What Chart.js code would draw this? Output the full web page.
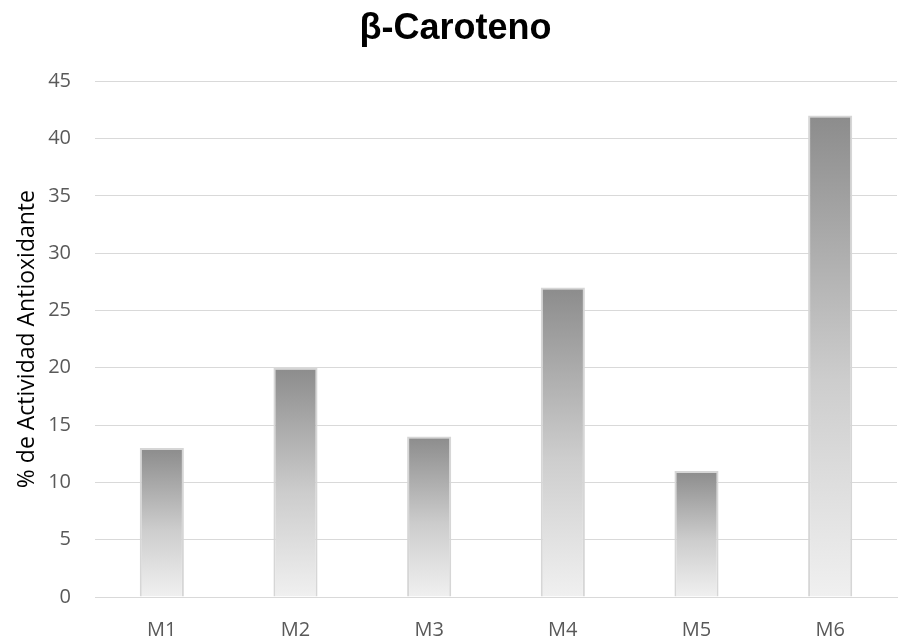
<!DOCTYPE html>
<html>
<head>
<meta charset="utf-8">
<script src="https://cdn.jsdelivr.net/npm/chart.js@4/dist/chart.umd.min.js"></script>
<style>
  html, body { margin: 0; padding: 0; background: #ffffff; }
  #wrap { width: 898px; height: 640px; }
</style>
</head>
<body>
<div id="wrap"><canvas id="chart" width="898" height="640"></canvas></div>
<script>
const categories = ["M1", "M2", "M3", "M4", "M5", "M6"];
const activity = [13, 20, 14, 27, 11, 42];
const yTicks = [0, 5, 10, 15, 20, 25, 30, 35, 40, 45];

// Vertical grey gradient fitted to each bar's own height
function barGradient(context) {
  const chart = context.chart;
  const y = chart.scales.y;
  if (!chart.chartArea || !y) return "#bdbdbd";
  const top = y.getPixelForValue(activity[context.dataIndex]);
  const bottom = y.getPixelForValue(0);
  if (!isFinite(top) || !isFinite(bottom) || top === bottom) return "#bdbdbd";
  const g = chart.ctx.createLinearGradient(0, top, 0, bottom);
  g.addColorStop(0, "#8c8c8c");
  g.addColorStop(0.55, "#cdcdcd");
  g.addColorStop(1, "#f0f0f0");
  return g;
}

new Chart(document.getElementById("chart"), {
  type: "bar",
  data: {
    labels: categories,
    datasets: [{
      data: activity,
      backgroundColor: barGradient,
      borderColor: "#d6d6d6",
      borderWidth: 2,
      categoryPercentage: 1,
      barPercentage: 0.33
    }]
  },
  options: {
    responsive: false,
    animation: false,
    layout: { padding: { left: 14, right: 1, top: 0, bottom: 0 } },
    plugins: {
      legend: { display: false },
      tooltip: { enabled: false },
      title: {
        display: true,
        text: "β-Caroteno",
        color: "#000000",
        font: { family: "'Liberation Sans', Arial, sans-serif", size: 36, weight: "bold" },
        padding: { top: 7, bottom: 31 }
      }
    },
    scales: {
      x: {
        afterFit: (axis) => { axis.height = 43; },
        grid: { display: false },
        border: { color: "#d9d9d9", width: 1 },
        ticks: {
          color: "#595959",
          font: { family: "'Open Sans', sans-serif", size: 20 },
          padding: 13
        }
      },
      y: {
        min: 0,
        max: 45,
        afterBuildTicks: (axis) => { axis.ticks = yTicks.map(v => ({ value: v })); },
        afterFit: (axis) => { axis.width = 81; },
        grid: { color: "#d9d9d9", lineWidth: 1, drawTicks: false },
        border: { display: false },
        ticks: {
          color: "#595959",
          font: { family: "'Open Sans', sans-serif", size: 20 },
          padding: 24
        },
        title: {
          display: true,
          text: "% de Actividad Antioxidante",
          color: "#000000",
          font: { family: "'Open Sans', sans-serif", size: 23 },
          padding: { top: 0, bottom: 0 }
        }
      }
    }
  }
});
</script>
</body>
</html>
